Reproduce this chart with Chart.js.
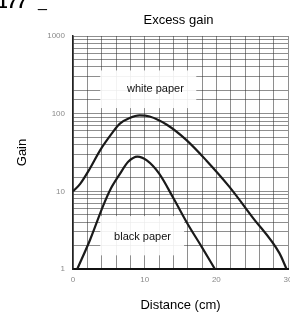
<!DOCTYPE html>
<html>
<head>
<meta charset="utf-8">
<script src="https://cdn.jsdelivr.net/npm/chart.js@4"></script>
<style>
    html, body { margin: 0; padding: 0; background: #fff; }
    #wrap { width: 290px; height: 320px; position: relative; }
</style>
</head>
<body>
<div id="wrap"><canvas id="gain-chart"></canvas></div>
<script>
// Curve data (distance in cm, gain on log scale)
const whiteDistance = [0, 1, 2.4, 3.8, 5.5, 6.5, 7.9, 9.3, 10.7, 13.1, 15.8, 18.6, 21.8, 25, 28.8, 29.8];
const whiteGain = [10, 12.5, 20, 34, 57, 74, 88, 95, 92, 72, 46, 25, 11.5, 4.7, 1.6, 1];

const blackDistance = [0.6, 2.4, 4.2, 5.2, 6.5, 7.7, 9, 10.3, 12, 14, 16, 18, 19.8];
const blackGain = [1, 2.4, 6.5, 10.5, 16.5, 24, 28, 25, 17, 8.2, 3.8, 1.9, 1];

// Axis tick labels
const xTickLabels = [0, 10, 20, 30];
const yTickLabels = [1, 10, 100, 1000];

const chartTitle = 'Excess gain';

// Curve annotations (text position and white box, in data units)
const curveLabels = [
    { text: 'white paper', x: 11.5, y: 207, box: [3.8, 17.2, 360, 118] },
    { text: 'black paper', x: 9.7, y: 2.6, box: [3.8, 15.5, 4.8, 1.5] }
];

function toPoints(xs, ys) {
    return xs.map((x, i) => ({ x: x, y: ys[i] }));
}

const fontFamily = '"Liberation Sans", Arial, sans-serif';

// Draws the white label boxes + text, the title and the cut-off figure number
const labelPlugin = {
    id: 'labelPlugin',
    beforeDatasetsDraw(chart) {
        const ctx = chart.ctx;
        const xs = chart.scales.x;
        const ys = chart.scales.y;
        ctx.save();
        curveLabels.forEach(lbl => {
            const x0 = xs.getPixelForValue(lbl.box[0]);
            const x1 = xs.getPixelForValue(lbl.box[1]);
            const y0 = ys.getPixelForValue(lbl.box[2]);
            const y1 = ys.getPixelForValue(lbl.box[3]);
            ctx.fillStyle = 'rgba(255,255,255,0.9)';
            ctx.fillRect(x0, y0, x1 - x0, y1 - y0);
        });
        ctx.fillStyle = '#111';
        ctx.font = '11px ' + fontFamily;
        ctx.textAlign = 'center';
        ctx.textBaseline = 'middle';
        curveLabels.forEach(lbl => {
            ctx.fillText(lbl.text, xs.getPixelForValue(lbl.x), ys.getPixelForValue(lbl.y));
        });
        ctx.restore();
    },
    afterDraw(chart) {
        const ctx = chart.ctx;
        const area = chart.chartArea;
        ctx.save();
        ctx.fillStyle = '#000';
        ctx.font = '13px ' + fontFamily;
        ctx.textAlign = 'center';
        ctx.textBaseline = 'middle';
        ctx.fillText(chartTitle, (area.left + area.right) / 2 - 2, 20);

        ctx.font = 'bold 17px ' + fontFamily;
        ctx.textBaseline = 'alphabetic';
        ctx.textAlign = 'left';
        ctx.fillText('177', -2, 8);
        ctx.font = '16px ' + fontFamily;
        ctx.fillText('_', 38, 7);
        ctx.restore();
    }
};

const gridColor = 'rgba(50, 50, 50, 0.55)';
const tickFont = { family: fontFamily, size: 8 };

const ctx = document.getElementById('gain-chart').getContext('2d');
const gainChart = new Chart(ctx, {
    type: 'line',
    data: {
        datasets: [
            {
                label: 'white paper',
                data: toPoints(whiteDistance, whiteGain),
                borderColor: '#1a1a1a',
                borderWidth: 2.2,
                pointRadius: 0,
                cubicInterpolationMode: 'monotone'
            },
            {
                label: 'black paper',
                data: toPoints(blackDistance, blackGain),
                borderColor: '#1a1a1a',
                borderWidth: 2.2,
                pointRadius: 0,
                cubicInterpolationMode: 'monotone'
            }
        ]
    },
    options: {
        responsive: true,
        maintainAspectRatio: false,
        animation: false,
        layout: {
            padding: { top: 36, right: 2, bottom: 0, left: 0 }
        },
        scales: {
            x: {
                type: 'linear',
                min: 0,
                max: 30,
                ticks: {
                    stepSize: 2,
                    padding: 6,
                    color: '#8a8a8a',
                    font: tickFont,
                    maxRotation: 0,
                    autoSkip: false,
                    callback: (v) => xTickLabels.includes(v) ? String(v) : ''
                },
                grid: { color: gridColor, lineWidth: 1, drawTicks: false },
                border: { color: '#111', width: 2 },
                title: {
                    display: true,
                    text: 'Distance (cm)',
                    color: '#000',
                    font: { family: fontFamily, size: 13 },
                    padding: { top: 0, bottom: 7 }
                },
                afterFit: (scale) => {
                    scale.height = 51;
                    scale.paddingLeft = 0;
                    scale.paddingRight = 0;
                }
            },
            y: {
                type: 'logarithmic',
                min: 1,
                max: 1000,
                ticks: {
                    padding: 8,
                    color: '#8a8a8a',
                    font: tickFont,
                    autoSkip: false,
                    callback: (v) => yTickLabels.includes(v) ? String(v) : ''
                },
                grid: { color: gridColor, lineWidth: 1, drawTicks: false },
                border: { color: '#222', width: 1.5 },
                title: {
                    display: true,
                    text: 'Gain',
                    color: '#000',
                    font: { family: fontFamily, size: 13 },
                    padding: { top: 15, bottom: 0 }
                },
                afterFit: (scale) => {
                    scale.width = 73;
                    scale.paddingTop = 0;
                    scale.paddingBottom = 0;
                }
            }
        },
        plugins: {
            legend: { display: false },
            tooltip: { enabled: false },
            title: { display: false }
        }
    },
    plugins: [labelPlugin]
});
</script>
</body>
</html>
